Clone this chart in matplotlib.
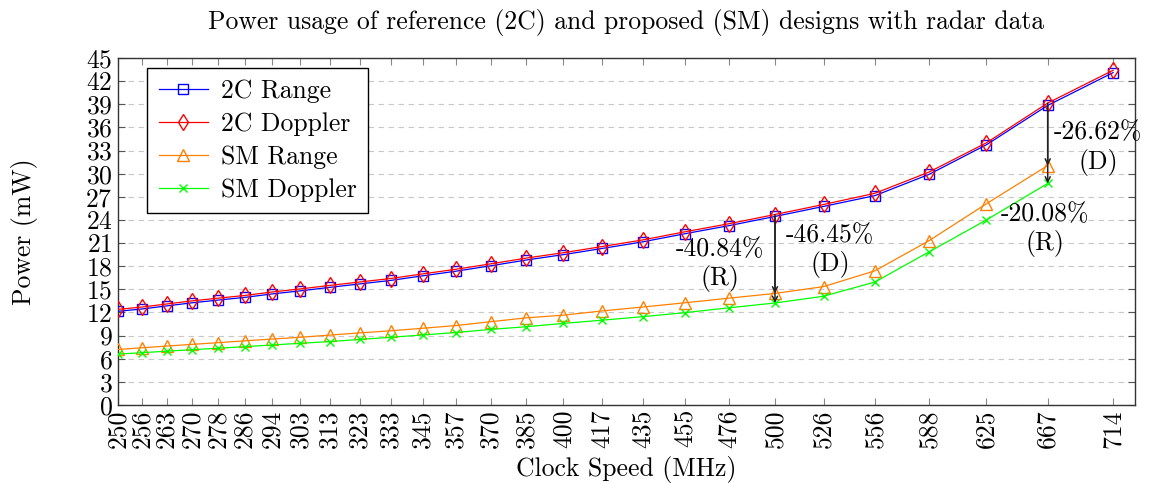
import matplotlib
matplotlib.use("Agg")
import matplotlib.pyplot as plt
import numpy as np
from matplotlib.ticker import FixedLocator, NullLocator, MultipleLocator

plt.rcParams['font.family'] = 'cmr10'
plt.rcParams['mathtext.fontset'] = 'cm'
plt.rcParams['axes.unicode_minus'] = False
plt.rcParams['axes.formatter.use_mathtext'] = True

# clock speeds (MHz), from periods 4.0 ns down to 1.4 ns
clock_mhz = [250.0, 256.4, 263.2, 270.3, 277.8, 285.7, 294.1, 303.0, 312.5,
             322.6, 333.3, 344.8, 357.1, 370.4, 384.6, 400.0, 416.7, 434.8,
             454.5, 476.2, 500.0, 526.3, 555.6, 588.2, 625.0, 666.7, 714.3]
tick_labels = ["250", "256", "263", "270", "278", "286", "294", "303", "313",
               "323", "333", "345", "357", "370", "385", "400", "417", "435",
               "455", "476", "500", "526", "556", "588", "625", "667", "714"]

# power (mW)
range_2c = [12.15, 12.45, 12.85, 13.25, 13.6, 13.95, 14.4, 14.8, 15.25,
            15.7, 16.15, 16.75, 17.35, 18.05, 18.8, 19.5, 20.3, 21.15,
            22.2, 23.25, 24.45, 25.75, 27.15, 29.9, 33.75, 38.85, 43.1]
doppler_2c = [12.4, 12.7, 13.1, 13.5, 13.85, 14.2, 14.65, 15.05, 15.5,
              15.95, 16.4, 17.0, 17.6, 18.3, 19.05, 19.75, 20.55, 21.4,
              22.45, 23.5, 24.7, 26.0, 27.45, 30.2, 34.0, 39.15, 43.4]
range_sm = [7.2, 7.42, 7.64, 7.86, 8.08, 8.32, 8.55, 8.78, 9.06,
            9.35, 9.62, 9.95, 10.3, 10.8, 11.3, 11.65, 12.2, 12.7,
            13.25, 13.85, 14.465, 15.35, 17.4, 21.3, 26.1, 31.049]
doppler_sm = [6.6, 6.78, 6.98, 7.17, 7.36, 7.56, 7.78, 8.0, 8.22,
              8.5, 8.78, 9.08, 9.4, 9.8, 10.15, 10.58, 11.0, 11.45,
              11.97, 12.6, 13.227, 14.1, 15.95, 19.85, 24.0, 28.728]

FS = 18.5

fig = plt.figure(figsize=(11.49, 4.83), dpi=100)
ax = fig.add_axes([0.1027, 0.1615, 0.8851, 0.7185])

n_sm = len(range_sm)
ax.plot(clock_mhz, range_2c, '-', color='#0000ff', lw=0.9, marker='s',
        ms=7.5, mfc='none', mec='#0000ff', mew=1.0, label='2C Range', zorder=3)
ax.plot(clock_mhz, doppler_2c, '-', color='#ff0000', lw=0.9, marker='d',
        ms=8, mfc='none', mec='#ff0000', mew=1.0, label='2C Doppler', zorder=4)
ax.plot(clock_mhz[:n_sm], range_sm, '-', color='#ff8000', lw=0.9, marker='^',
        ms=8, mfc='none', mec='#ff8000', mew=1.0, label='SM Range', zorder=3)
ax.plot(clock_mhz[:n_sm], doppler_sm, '-', color='#00ff00', lw=0.9, marker='x',
        ms=6, mec='#00ff00', mew=1.0, label='SM Doppler', zorder=3)

# reduction arrows and labels at 500 MHz and 667 MHz
def reduction(a, b):
    return (b / a - 1) * 100

arrow_kw = dict(arrowstyle='->', color='#222222', lw=1.1, shrinkA=0, shrinkB=0,
                mutation_scale=9)
for i in (20, 25):
    x = clock_mhz[i]
    ax.annotate('', xy=(x, range_sm[i]), xytext=(x, range_2c[i]),
                arrowprops=arrow_kw, zorder=5)
    ax.annotate('', xy=(x, doppler_sm[i]), xytext=(x, doppler_2c[i]),
                arrowprops=arrow_kw, zorder=5)

txt_kw = dict(ha='center', va='center', fontsize=FS, linespacing=1.2, zorder=6)
ax.text(471.8, 18.2, f"{reduction(range_2c[20], range_sm[20]):.2f}%\n(R)", **txt_kw)
ax.text(530.0, 20.0, f"{reduction(doppler_2c[20], doppler_sm[20]):.2f}%\n(D)", **txt_kw)
ax.text(703.0, 33.3, f"{reduction(doppler_2c[25], doppler_sm[25]):.2f}%\n(D)", **txt_kw)
ax.text(664.8, 22.7, f"{reduction(range_2c[25], range_sm[25]):.2f}%\n(R)", **txt_kw)

ax.set_xscale('log')
ax.set_xlim(250, 731)
ax.set_ylim(0, 45)
ax.xaxis.set_major_locator(FixedLocator(clock_mhz))
ax.xaxis.set_minor_locator(NullLocator())
ax.set_xticklabels(tick_labels, rotation=90, fontsize=FS)
ax.yaxis.set_major_locator(MultipleLocator(3))
ax.tick_params(axis='y', labelsize=FS, direction='in', left=True, right=True,
               length=5, color='#555555', pad=4)
ax.tick_params(axis='x', direction='in', top=True, bottom=True, length=5,
               color='#888888', pad=3)
ax.grid(axis='y', ls=(0, (5, 4)), lw=0.8, color='#c8c8c8')
ax.set_axisbelow(True)
for s in ax.spines.values():
    s.set_color('#333333')
    s.set_linewidth(1.0)

ax.set_title("Power usage of reference (2C) and proposed (SM) designs with radar data",
             fontsize=FS, pad=21)
ax.set_xlabel("Clock Speed (MHz)", fontsize=FS, labelpad=6)
ax.set_ylabel("Power (mW)", fontsize=FS, labelpad=34)

leg = ax.legend(loc='upper left', bbox_to_anchor=(0.029, 0.972), fontsize=FS,
                fancybox=False, edgecolor='black', framealpha=1,
                handlelength=1.9, handletextpad=0.5, borderpad=0.45,
                labelspacing=0.36, borderaxespad=0)
leg.get_frame().set_linewidth(1.0)

fig.savefig("out.png", dpi=100)
